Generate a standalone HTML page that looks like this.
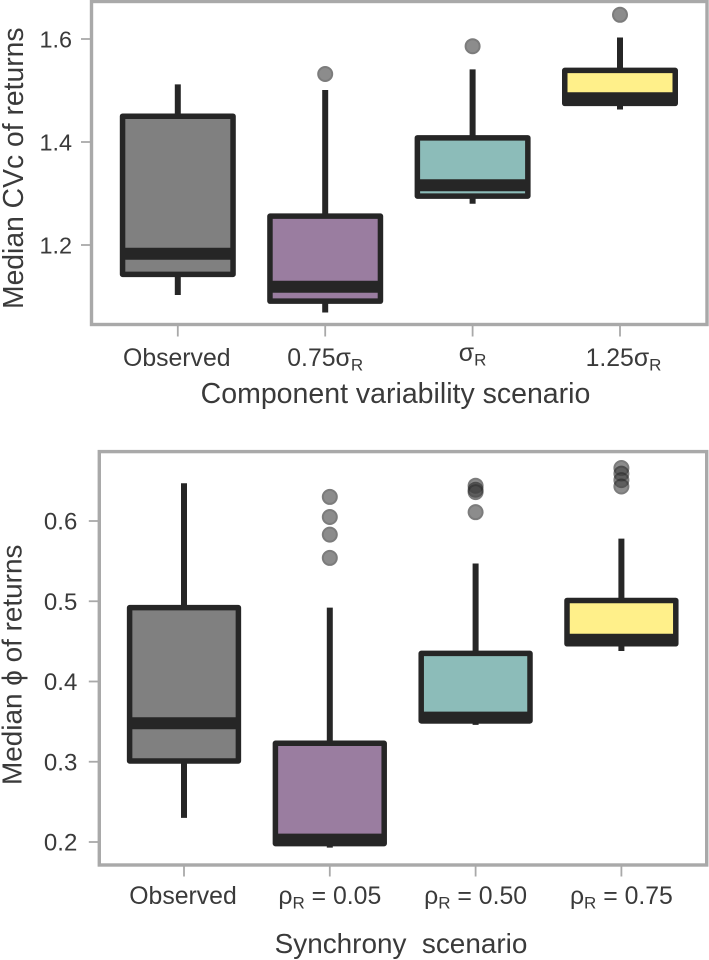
<!DOCTYPE html>
<html lang="en">
<head>
<meta charset="utf-8">
<title>Median CVc and phi of returns by scenario</title>
<style>
  html, body { margin: 0; padding: 0; background: #ffffff; }
  body { width: 709px; height: 960px; overflow: hidden; }
  svg { display: block; }
  text { font-family: "Liberation Sans", "DejaVu Sans", sans-serif; fill: #3a3a3a; }
</style>
</head>
<body>
<svg id="chart" xmlns="http://www.w3.org/2000/svg" width="709" height="960" viewBox="0 0 709 960">
  <g id="top-panel">
    <rect x="91.5" y="1.5" width="615.5" height="323" fill="#ffffff" stroke="#a9a9a9" stroke-width="3.4"/>
    <text transform="translate(23,309) rotate(-90)" font-size="28.3">Median CVc of returns</text>
    <text x="395.5" y="403" font-size="28.5" text-anchor="middle">Component variability scenario</text>
  </g>
  <g id="bottom-panel">
    <rect x="99.3" y="451.6" width="607.4" height="413.4" fill="#ffffff" stroke="#a9a9a9" stroke-width="3.4"/>
    <text transform="translate(21.5,785) rotate(-90)" font-size="27.9">Median ϕ of returns</text>
    <text x="401" y="953" font-size="27.9" text-anchor="middle" xml:space="preserve">Synchrony  scenario</text>
  </g>
</svg>
<script>
// Top panel data
const cvYTicks = [1.2, 1.4, 1.6];
const cvTickText = ["1.2", "1.4", "1.6"];
const cvCategoryText = ["Observed", "0.75σ", "σ", "1.25σ"];
const cvCategorySub = ["", "R", "R", "R"];
const cvCategoryTail = ["", "", "", ""];
const cvWhiskerLow = [1.103, 1.069, 1.28, 1.463];
const cvQ1 = [1.143, 1.091, 1.295, 1.475];
const cvMedian = [1.183, 1.119, 1.316, 1.485];
const cvQ3 = [1.45, 1.256, 1.408, 1.539];
const cvWhiskerHigh = [1.512, 1.501, 1.541, 1.603];
const cvOutliers = [[], [1.532], [1.586], [1.647]];

// Bottom panel data
const phiYTicks = [0.2, 0.3, 0.4, 0.5, 0.6];
const phiTickText = ["0.2", "0.3", "0.4", "0.5", "0.6"];
const phiCategoryText = ["Observed", "ρ", "ρ", "ρ"];
const phiCategorySub = ["", "R", "R", "R"];
const phiCategoryTail = ["", " = 0.05", " = 0.50", " = 0.75"];
const phiWhiskerLow = [0.23, 0.193, 0.346, 0.438];
const phiQ1 = [0.301, 0.198, 0.351, 0.447];
const phiMedian = [0.348, 0.203, 0.355, 0.452];
const phiQ3 = [0.492, 0.323, 0.435, 0.501];
const phiWhiskerHigh = [0.647, 0.492, 0.547, 0.578];
const phiOutliers = [[], [0.63, 0.605, 0.583, 0.554], [0.644, 0.639, 0.636, 0.611], [0.666, 0.659, 0.651, 0.643]];

const boxFills = ["#808080", "#9a7da0", "#8cbcb9", "#fff08a"];

const SVGNS = "http://www.w3.org/2000/svg";
function make(parent, tag, attrs) {
  const el = document.createElementNS(SVGNS, tag);
  Object.keys(attrs).forEach(function (k) { el.setAttribute(k, attrs[k]); });
  parent.appendChild(el);
  return el;
}

function cvY(v) { return 245 - (v - 1.2) * 515; }
function cvX(i) { return 177.8 + 147.4 * i; }
function phiY(v) { return 842 - (v - 0.2) * 802.5; }
function phiX(i) { return 184 + 145.8 * i; }

function labelShiftX(name) {
  if (name === "1.25σ") return 3.5;
  if (name === "Observed") return -1;
  return 0;
}
function labelShiftY(name) {
  return name === "σ" ? -5 : 0;
}

function drawPanel(g, prefix, cfg) {
  const frameColor = "#a9a9a9";
  const ink = "#262626";

  cfg.ticks.forEach(function (t, k) {
    const y = cfg.y(t);
    const tick = make(g, "line", { x1: cfg.left - 10.5, x2: cfg.left, y1: y, y2: y, stroke: frameColor, "stroke-width": 1.8 });
    
    
    const label = make(g, "text", { x: cfg.left - cfg.tickGap, y: y + 8.6, "font-size": cfg.tickSize, "text-anchor": "end" });
    label.textContent = cfg.tickText[k];
    
    
  });

  cfg.text.forEach(function (name, i) {
    const x = cfg.x(i);
    const tick = make(g, "line", { x1: x, x2: x, y1: cfg.bottom, y2: cfg.bottom + 10.5, stroke: frameColor, "stroke-width": 1.8 });
    
    
    const label = make(g, "text", { x: x + labelShiftX(name), y: cfg.labelY + labelShiftY(name), "font-size": cfg.labelSize, "text-anchor": "middle" });
    
    
    const base = make(label, "tspan", {});
    base.textContent = name;
    if (cfg.sub[i]) {
      const sub = make(label, "tspan", { dy: 4.5, "font-size": 17 });
      sub.textContent = cfg.sub[i];
    }
    if (cfg.tail[i]) {
      const tail = make(label, "tspan", { dy: -4.5 });
      tail.setAttribute("xml:space", "preserve");
      tail.textContent = "\u00a0" + cfg.tail[i].replace(/^ /, "").replace(" = ", "\u00a0=\u00a0");
    }

    const whisker = make(g, "line", {
      x1: x, x2: x, y1: cfg.y(cfg.whiskerHigh[i]), y2: cfg.y(cfg.whiskerLow[i]),
      stroke: ink, "stroke-width": 6
    });
    
    

    const top = cfg.y(cfg.q3[i]);
    const bot = cfg.y(cfg.q1[i]);
    const box = make(g, "rect", {
      x: x - cfg.half, y: top, width: cfg.half * 2, height: bot - top,
      fill: boxFills[i], stroke: ink, "stroke-width": 5.5, "stroke-linejoin": "round"
    });
    
    

    const my = cfg.y(cfg.median[i]);
    const median = make(g, "line", {
      x1: x - cfg.half, x2: x + cfg.half, y1: my, y2: my,
      stroke: ink, "stroke-width": 12
    });
    
    

    cfg.outliers[i].forEach(function (v) {
      const dot = make(g, "circle", {
        cx: x, cy: cfg.y(v), r: 7, fill: "#404040", stroke: "#262626",
        "stroke-width": 2, opacity: 0.6
      });
      
      
    });
  });
}

drawPanel(document.getElementById("top-panel"), "cv", {
  ticks: cvYTicks, tickText: cvTickText, text: cvCategoryText, sub: cvCategorySub, tail: cvCategoryTail,
  whiskerLow: cvWhiskerLow, q1: cvQ1, median: cvMedian, q3: cvQ3, whiskerHigh: cvWhiskerHigh, outliers: cvOutliers,
  x: cvX, y: cvY, left: 91.5, bottom: 326, half: 55.25, labelY: 366, labelSize: 24.8, tickSize: 23.4, tickGap: 19.5
});

drawPanel(document.getElementById("bottom-panel"), "phi", {
  ticks: phiYTicks, tickText: phiTickText, text: phiCategoryText, sub: phiCategorySub, tail: phiCategoryTail,
  whiskerLow: phiWhiskerLow, q1: phiQ1, median: phiMedian, q3: phiQ3, whiskerHigh: phiWhiskerHigh, outliers: phiOutliers,
  x: phiX, y: phiY, left: 99.3, bottom: 866, half: 54.4, labelY: 904, labelSize: 24.8, tickSize: 24, tickGap: 22
});
</script>
</body>
</html>
